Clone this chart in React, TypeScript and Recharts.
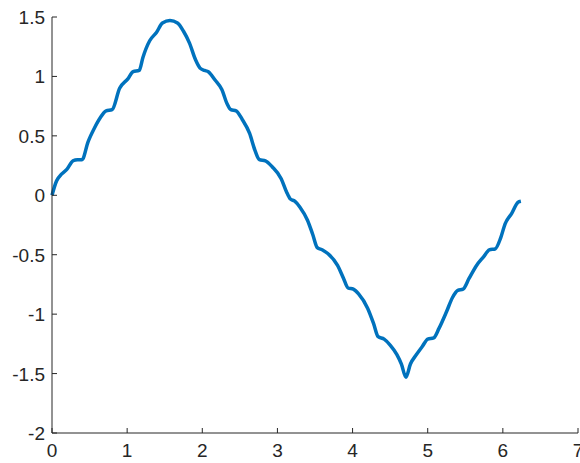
import React from "react";
import { LineChart, Line, XAxis, YAxis } from "recharts";

const xValues = [
  0, 0.06, 0.13, 0.2, 0.28, 0.34, 0.4, 0.48, 0.56, 0.64, 0.72, 0.8, 0.9, 1.01,
  1.08, 1.16, 1.21, 1.3, 1.39, 1.47, 1.57, 1.67, 1.75, 1.83, 1.91, 1.97, 2.03,
  2.08, 2.17, 2.26, 2.33, 2.38, 2.45, 2.53, 2.63, 2.7, 2.76, 2.84, 2.93, 3.05,
  3.12, 3.17, 3.23, 3.3, 3.4, 3.47, 3.53, 3.6, 3.67, 3.8, 3.88, 3.94, 4.01,
  4.08, 4.2, 4.28, 4.34, 4.42, 4.5, 4.59, 4.65, 4.71, 4.77, 4.85, 4.93, 5.0,
  5.08, 5.15, 5.25, 5.33, 5.4, 5.47, 5.55, 5.65, 5.74, 5.82, 5.9, 5.97, 6.03,
  6.12, 6.2, 6.24,
];

const yValues = [
  0, 0.12, 0.18, 0.22, 0.29, 0.3, 0.3, 0.45, 0.56, 0.65, 0.71, 0.72, 0.9, 0.98,
  1.04, 1.05, 1.16, 1.3, 1.37, 1.45, 1.47, 1.45, 1.38, 1.28, 1.14, 1.07, 1.05,
  1.04, 0.97, 0.89, 0.77, 0.72, 0.71, 0.64, 0.52, 0.38, 0.3, 0.29, 0.24, 0.14,
  0.03, -0.03, -0.05, -0.1, -0.21, -0.33, -0.44, -0.46, -0.49, -0.59, -0.7,
  -0.78, -0.79, -0.83, -0.95, -1.08, -1.19, -1.21, -1.26, -1.34, -1.42, -1.53,
  -1.42, -1.34, -1.27, -1.21, -1.2, -1.12, -0.98, -0.86, -0.8, -0.79, -0.7,
  -0.59, -0.52, -0.46, -0.45, -0.36, -0.24, -0.15, -0.06, -0.05,
];

const xTicks = [0, 1, 2, 3, 4, 5, 6, 7];
const yTicks = [-2, -1.5, -1, -0.5, 0, 0.5, 1, 1.5];

const data = xValues.map((x, i) => ({ x, y: yValues[i] }));

const AXIS = "#262626";
const FONT = "'Liberation Sans', Arial, sans-serif";

function XTick({ x, y, payload }: any) {
  return (
    <g>
      <line x1={x} y1={y} x2={x} y2={y - 5} stroke={AXIS} strokeWidth={1} />
      <text x={x} y={y + 24} textAnchor="middle" fontSize={19} fill={AXIS} fontFamily={FONT}>
        {payload.value}
      </text>
    </g>
  );
}

function YTick({ x, y, payload }: any) {
  return (
    <g>
      <line x1={x} y1={y} x2={x + 5} y2={y} stroke={AXIS} strokeWidth={1} />
      <text x={x - 7} y={y + 7} textAnchor="end" fontSize={19} fill={AXIS} fontFamily={FONT}>
        {payload.value}
      </text>
    </g>
  );
}

export default function App() {
  return (
    <div style={{ position: "absolute", left: 0, top: 0, background: "#fff" }}>
      <LineChart
        width={580}
        height={463}
        data={data}
        margin={{ top: 17, right: 2, bottom: 0, left: 0 }}
      >
        <XAxis
          dataKey="x"
          type="number"
          domain={[0, 7]}
          ticks={xTicks}
          interval={0}
          height={30}
          tickSize={0}
          tickMargin={0}
          tickLine={false}
          axisLine={{ stroke: AXIS, strokeWidth: 1 }}
          tick={<XTick />}
        />
        <YAxis
          type="number"
          domain={[-2, 1.5]}
          ticks={yTicks}
          interval={0}
          width={52}
          tickSize={0}
          tickMargin={0}
          tickLine={false}
          axisLine={{ stroke: AXIS, strokeWidth: 1 }}
          tick={<YTick />}
        />
        <Line
          dataKey="y"
          type="monotone"
          stroke="#0072BD"
          strokeWidth={3.5}
          dot={false}
          isAnimationActive={false}
        />
      </LineChart>
    </div>
  );
}
